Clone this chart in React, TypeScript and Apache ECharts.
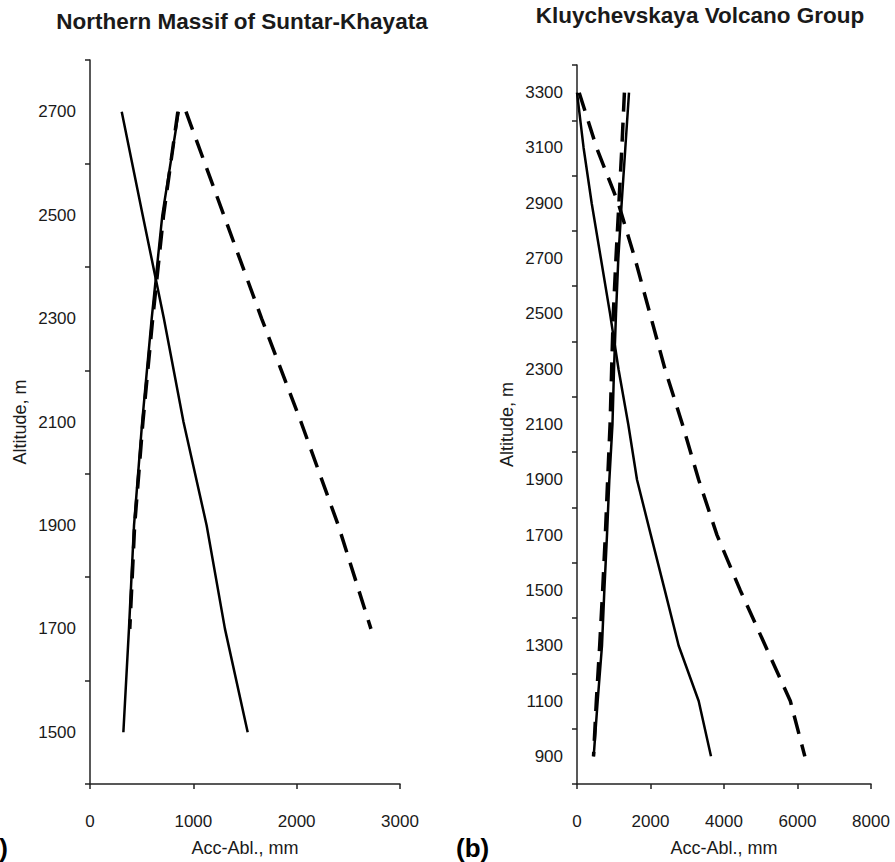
import React, { useEffect, useRef } from "react";
import * as echarts from "echarts";

// ---- Data ----
// Left panel: Northern Massif of Suntar-Khayata
const leftAltitudes = [2700, 2500, 2300, 2100, 1900, 1700, 1500];
const leftSolidDesc = [307, 510, 715, 905, 1129, 1306, 1526];
const leftSolidAsc = [858, 700, 597, 505, 426, 377, 323];
const leftDashAltitudes = [2700, 2500, 2300, 2100, 1900, 1700];
const leftDashAsc = [850, 712, 607, 512, 432, 385];
const leftDashDesc = [929, 1295, 1661, 2042, 2403, 2719];

// Right panel: Kluychevskaya Volcano Group
const rightAltitudes = [3300, 3100, 2900, 2700, 2500, 2300, 2100, 1900, 1700, 1500, 1300, 1100, 900];
const rightSolidDesc = [0, 180, 400, 650, 900, 1130, 1396, 1633, 2010, 2390, 2767, 3311, 3646];
const rightSolidAsc = [1415, 1315, 1215, 1124, 1061, 1007, 965, 880, 816, 744, 680, 562, 454];
const rightDashAsc = [1290, 1220, 1140, 1060, 988, 943, 900, 834, 771, 698, 617, 526, 450];
const rightDashDesc = [60, 536, 1124, 1578, 1986, 2395, 2870, 3311, 3810, 4444, 5125, 5805, 6200];

const titles = ["Northern Massif of Suntar-Khayata", "Kluychevskaya Volcano Group"];
const xAxisName = "Acc-Abl., mm";
const yAxisName = "Altitude, m";
const panelLabels = ["(a)", "(b)"];

const FONT = "'Liberation Sans', Arial, Helvetica, sans-serif";
const AXIS_COLOR = "#222";
const TEXT_COLOR = "#1a1a1a";

function pairs(xs: number[], ys: number[]) {
  return xs.map((x, i) => [x, ys[i]]);
}

export default function App() {
  const ref = useRef<HTMLDivElement>(null);

  useEffect(() => {
    if (!ref.current) return;
    const chart = echarts.init(ref.current, undefined, { renderer: "svg" });

    const xAxisBase = (gridIndex: number, max: number, interval: number) => ({
      type: "value",
      gridIndex,
      min: 0,
      max,
      interval,
      name: xAxisName,
      nameLocation: "middle",
      nameGap: 55,
      nameTextStyle: { fontFamily: FONT, fontSize: 18, color: TEXT_COLOR },
      axisLine: { show: true, onZero: false, lineStyle: { color: AXIS_COLOR, width: 1.5 } },
      axisTick: { show: true, inside: false, length: 5, lineStyle: { color: AXIS_COLOR, width: 1.5 } },
      axisLabel: {
        margin: 29,
        fontFamily: FONT,
        fontSize: 17,
        color: TEXT_COLOR,
        formatter: (v: number) => String(Math.round(v)),
      },
      splitLine: { show: false },
    });

    const yTickAxis = (gridIndex: number, min: number, max: number) => ({
      type: "value",
      gridIndex,
      position: "left",
      offset: 0,
      min,
      max,
      interval: 200,
      name: yAxisName,
      nameLocation: "middle",
      nameGap: 61,
      nameTextStyle: { fontFamily: FONT, fontSize: 18, color: TEXT_COLOR },
      axisLine: { show: true, onZero: false, lineStyle: { color: AXIS_COLOR, width: 1.5 } },
      axisTick: { show: true, inside: false, length: 5, lineStyle: { color: AXIS_COLOR, width: 1.5 } },
      axisLabel: { show: false },
      splitLine: { show: false },
    });

    const yLabelAxis = (gridIndex: number, min: number, max: number) => ({
      type: "value",
      gridIndex,
      position: "left",
      offset: 0,
      min,
      max,
      interval: 100,
      axisLine: { show: false, onZero: false },
      axisTick: { show: false },
      axisLabel: {
        margin: 14,
        fontFamily: FONT,
        fontSize: 17,
        color: TEXT_COLOR,
        formatter: (v: number) => (Math.round(v) % 200 === 100 ? String(Math.round(v)) : ""),
      },
      splitLine: { show: false },
    });

    const solid = { color: "#000", width: 2.5, type: "solid" as const };
    const dashed = { color: "#000", width: 3.5, type: [19, 11] as any, cap: "butt" as const };

    const line = (name: string, xIdx: number, yIdx: number, data: number[][], style: any) => ({
      name,
      type: "line",
      xAxisIndex: xIdx,
      yAxisIndex: yIdx,
      data,
      showSymbol: false,
      symbol: "none",
      lineStyle: style,
      silent: true,
    });

    chart.setOption({
      animation: false,
      backgroundColor: "#fff",
      textStyle: { fontFamily: FONT },
      grid: [
        { left: 90, top: 60, width: 310, height: 725, containLabel: false },
        { left: 577, top: 65, width: 294, height: 720, containLabel: false },
      ],
      xAxis: [xAxisBase(0, 3000, 1000), xAxisBase(1, 8000, 2000)],
      yAxis: [
        yTickAxis(0, 1400, 2800),
        yLabelAxis(0, 1400, 2800),
        yTickAxis(1, 800, 3400),
        yLabelAxis(1, 800, 3400),
      ],
      series: [
        line("left-solid-desc", 0, 0, pairs(leftSolidDesc, leftAltitudes), solid),
        line("left-solid-asc", 0, 0, pairs(leftSolidAsc, leftAltitudes), solid),
        line("left-dash-asc", 0, 0, pairs(leftDashAsc, leftDashAltitudes), dashed),
        line("left-dash-desc", 0, 0, pairs(leftDashDesc, leftDashAltitudes), dashed),
        line("right-solid-desc", 1, 2, pairs(rightSolidDesc, rightAltitudes), solid),
        line("right-solid-asc", 1, 2, pairs(rightSolidAsc, rightAltitudes), solid),
        line("right-dash-asc", 1, 2, pairs(rightDashAsc, rightAltitudes), dashed),
        line("right-dash-desc", 1, 2, pairs(rightDashDesc, rightAltitudes), dashed),
      ],
      graphic: [
        {
          type: "text",
          x: 242,
          y: 21,
          style: {
            text: titles[0],
            fontFamily: FONT,
            fontSize: 22.5,
            fontWeight: "bold",
            fill: TEXT_COLOR,
            align: "center",
            verticalAlign: "middle",
          },
        },
        {
          type: "text",
          x: 700,
          y: 15,
          style: {
            text: titles[1],
            fontFamily: FONT,
            fontSize: 22.5,
            fontWeight: "bold",
            fill: TEXT_COLOR,
            align: "center",
            verticalAlign: "middle",
          },
        },
        {
          type: "text",
          x: 8,
          y: 848,
          style: {
            text: panelLabels[0],
            fontFamily: FONT,
            fontSize: 26,
            fontWeight: "bold",
            fill: "#000",
            align: "right",
            verticalAlign: "middle",
          },
        },
        {
          type: "text",
          x: 456,
          y: 848,
          style: {
            text: panelLabels[1],
            fontFamily: FONT,
            fontSize: 26,
            fontWeight: "bold",
            fill: "#000",
            align: "left",
            verticalAlign: "middle",
          },
        },
      ],
    });

    return () => chart.dispose();
  }, []);

  return (
    <div
      ref={ref}
      style={{ position: "absolute", left: 0, top: 0, width: 895, height: 862, background: "#fff" }}
    />
  );
}
